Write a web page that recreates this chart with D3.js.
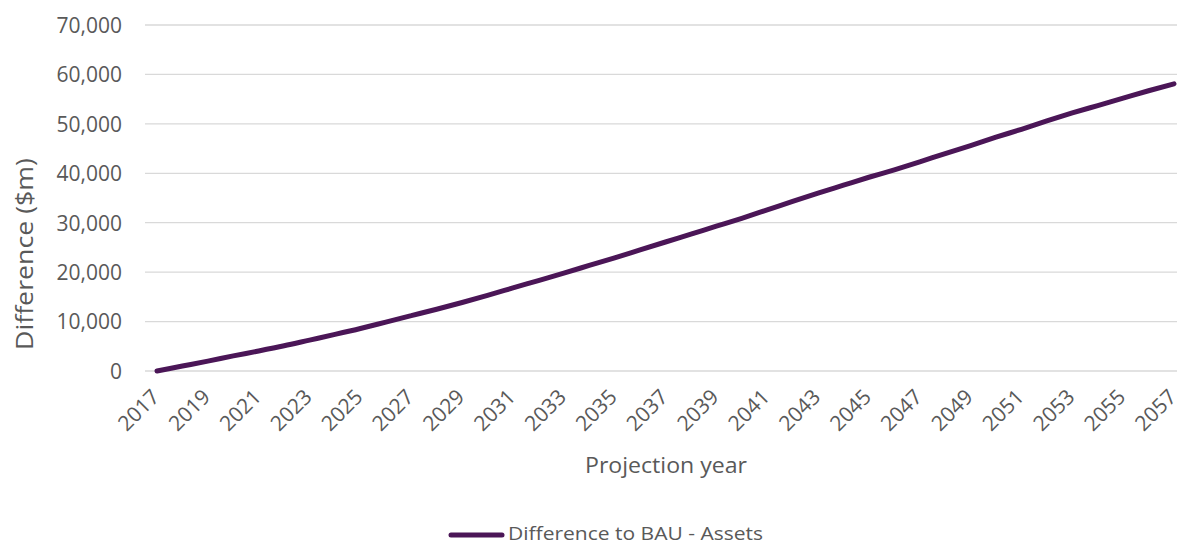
<!DOCTYPE html>
<html>
<head>
<meta charset="utf-8">
<script src="https://cdn.jsdelivr.net/npm/d3@7"></script>
<style>
  html, body { margin: 0; padding: 0; background: #fff; }
  svg text { font-family: "Open Sans", "Liberation Sans", sans-serif; fill: #595959; }
</style>
</head>
<body>
<svg id="chart" width="1178" height="545"></svg>
<script>
// Projection years 2017–2057
const years = d3.range(2017, 2058);

// Difference to BAU - Assets ($m)
const assetsDiff = [
  0, 1000, 2000, 3050, 4050, 5100, 6250, 7400, 8600, 9900,
  11200, 12500, 13850, 15300, 16800, 18300, 19800, 21350, 22900, 24500,
  26100, 27700, 29300, 30900, 32600, 34300, 36000, 37600, 39200, 40700,
  42300, 44000, 45600, 47300, 48900, 50600, 52200, 53700, 55200, 56700,
  58100
];

const yTicks = [0, 10000, 20000, 30000, 40000, 50000, 60000, 70000];
const xTickYears = years.filter(y => (y - 2017) % 2 === 0);

const seriesName = "Difference to BAU - Assets";
const xTitle = "Projection year";
const yTitle = "Difference ($m)";

const svg = d3.select("#chart");
const margin = { left: 157, right: 4, top: 25, bottom: 174 };
const W = 1178, H = 545;

const x = d3.scalePoint()
  .domain(years)
  .range([margin.left, W - margin.right]);

const y = d3.scaleLinear()
  .domain([0, 70000])
  .range([H - margin.bottom, margin.top]);

// horizontal gridlines
svg.append("g")
  .selectAll("line")
  .data(yTicks)
  .join("line")
  .attr("x1", 145)
  .attr("x2", W - 1)
  .attr("y1", d => y(d))
  .attr("y2", d => y(d))
  .attr("stroke", "#d9d9d9")
  .attr("stroke-width", 1.3);

// y axis labels
const fmt = d3.format(",");
const yAxis = svg.append("g")
  .attr("transform", `translate(${122},0)`)
  .call(d3.axisLeft(y).tickValues(yTicks).tickFormat(fmt).tickSize(0).tickPadding(0));
yAxis.select(".domain").remove();
yAxis.selectAll("text")
  .attr("font-size", 21)
  .attr("dy", "0.35em");

// x axis labels, rotated
const xAxis = svg.append("g")
  .attr("transform", `translate(0,${y(0)})`)
  .call(d3.axisBottom(x).tickValues(xTickYears).tickSize(0).tickPadding(0));
xAxis.select(".domain").remove();
xAxis.selectAll(".tick text")
  .attr("font-size", 21)
  .attr("text-anchor", "end")
  .attr("dy", "0.35em")
  .attr("transform", "translate(-2,22) rotate(-45)");

// axis titles
svg.append("text")
  .attr("x", 666)
  .attr("y", 473)
  .attr("text-anchor", "middle")
  .attr("font-size", 22)
  .attr("textLength", 162)
  .attr("lengthAdjust", "spacingAndGlyphs")
  .text(xTitle);

svg.append("text")
  .attr("transform", `translate(33,254) rotate(-90)`)
  .attr("text-anchor", "middle")
  .attr("font-size", 23)
  .attr("textLength", 192)
  .attr("lengthAdjust", "spacingAndGlyphs")
  .text(yTitle);

// series line
const line = d3.line()
  .x((d, i) => x(years[i]))
  .y(d => y(d))
  .curve(d3.curveMonotoneX);

svg.append("path")
  .datum(assetsDiff)
  .attr("d", line)
  .attr("fill", "none")
  .attr("stroke", "#4b1657")
  .attr("stroke-width", 5)
  .attr("stroke-linecap", "round")
  .attr("stroke-linejoin", "round");

// legend
const lg = svg.append("g").attr("transform", "translate(0,534)");
lg.append("line")
  .attr("x1", 451).attr("x2", 502)
  .attr("y1", 1).attr("y2", 1)
  .attr("stroke", "#4b1657")
  .attr("stroke-width", 5)
  .attr("stroke-linecap", "round");
lg.append("text")
  .attr("x", 508)
  .attr("y", 0)
  .attr("dy", "0.35em")
  .attr("font-size", 18)
  .attr("textLength", 255)
  .attr("lengthAdjust", "spacingAndGlyphs")
  .text(seriesName);
</script>
</body>
</html>
